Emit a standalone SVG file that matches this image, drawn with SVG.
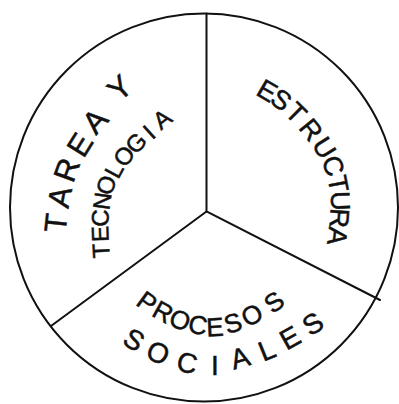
<svg xmlns="http://www.w3.org/2000/svg" width="399" height="404" viewBox="0 0 399 404">
<style>
.ln{fill:none;stroke:#111;stroke-width:2;stroke-linecap:round}
text{font-family:"Liberation Sans",Arial,sans-serif;fill:#111;stroke:#111;stroke-width:0.5;text-anchor:middle;dominant-baseline:central}
</style>
<rect width="399" height="404" fill="#fff"/>
<g id="connectors">
<circle class="ln" cx="204" cy="207.5" r="194"/>
<polyline class="ln" points="206.5,13.5 206.5,211.5 380,300"/>
<line class="ln" x1="206.5" y1="211.5" x2="51" y2="326"/>
</g>
<g id="tarea-y-tecnologia">
<text font-size="31" transform="translate(56,223) rotate(-84)">T</text>
<text font-size="31" transform="translate(60,197) rotate(-79)">A</text>
<text font-size="31" transform="translate(67,170) rotate(-70)">R</text>
<text font-size="31" transform="translate(80,145) rotate(-58)">E</text>
<text font-size="31" transform="translate(95,121) rotate(-48)">A</text>
<text font-size="31" transform="translate(120,88) rotate(-42)">Y</text>
<text font-size="24" transform="translate(101,251) rotate(-93)">T</text>
<text font-size="24" transform="translate(100,234) rotate(-92)">E</text>
<text font-size="24" transform="translate(100,218) rotate(-88)">C</text>
<text font-size="24" transform="translate(102,201) rotate(-82)">N</text>
<text font-size="24" transform="translate(106,185) rotate(-72)">O</text>
<text font-size="24" transform="translate(114,170) rotate(-62)">L</text>
<text font-size="24" transform="translate(124,156) rotate(-55)">O</text>
<text font-size="24" transform="translate(136,143) rotate(-47)">G</text>
<text font-size="24" transform="translate(149,132) rotate(-42)">I</text>
<text font-size="24" transform="translate(162,119) rotate(-38)">A</text>
</g>
<g id="estructura">
<text font-size="27" transform="translate(267,91) rotate(30)">E</text>
<text font-size="27" transform="translate(281,100) rotate(36)">S</text>
<text font-size="27" transform="translate(296,113) rotate(45)">T</text>
<text font-size="27" transform="translate(311,130) rotate(51)">R</text>
<text font-size="27" transform="translate(324,148) rotate(58)">U</text>
<text font-size="27" transform="translate(333,166) rotate(68)">C</text>
<text font-size="27" transform="translate(338,184) rotate(79)">T</text>
<text font-size="27" transform="translate(340,201) rotate(88)">U</text>
<text font-size="27" transform="translate(339,218) rotate(94)">R</text>
<text font-size="27" transform="translate(337,236) rotate(97)">A</text>
</g>
<g id="procesos-sociales">
<text font-size="26" transform="translate(147,302) rotate(36)">P</text>
<text font-size="26" transform="translate(163,312) rotate(29)">R</text>
<text font-size="26" transform="translate(180,320) rotate(20)">O</text>
<text font-size="26" transform="translate(198,325) rotate(11)">C</text>
<text font-size="26" transform="translate(215,327) rotate(-3)">E</text>
<text font-size="26" transform="translate(233,323) rotate(-17)">S</text>
<text font-size="26" transform="translate(252,315) rotate(-28)">O</text>
<text font-size="26" transform="translate(274,302) rotate(-38)">S</text>
<text font-size="28" transform="translate(134,340) rotate(32)">S</text>
<text font-size="28" transform="translate(158,353) rotate(24)">O</text>
<text font-size="28" transform="translate(187,363) rotate(12)">C</text>
<text font-size="28" transform="translate(215,365) rotate(0)">I</text>
<text font-size="28" transform="translate(240,358) rotate(-16)">A</text>
<text font-size="28" transform="translate(267,350) rotate(-22)">L</text>
<text font-size="28" transform="translate(290,338) rotate(-29)">E</text>
<text font-size="28" transform="translate(313,324) rotate(-33)">S</text>
</g>
</svg>
